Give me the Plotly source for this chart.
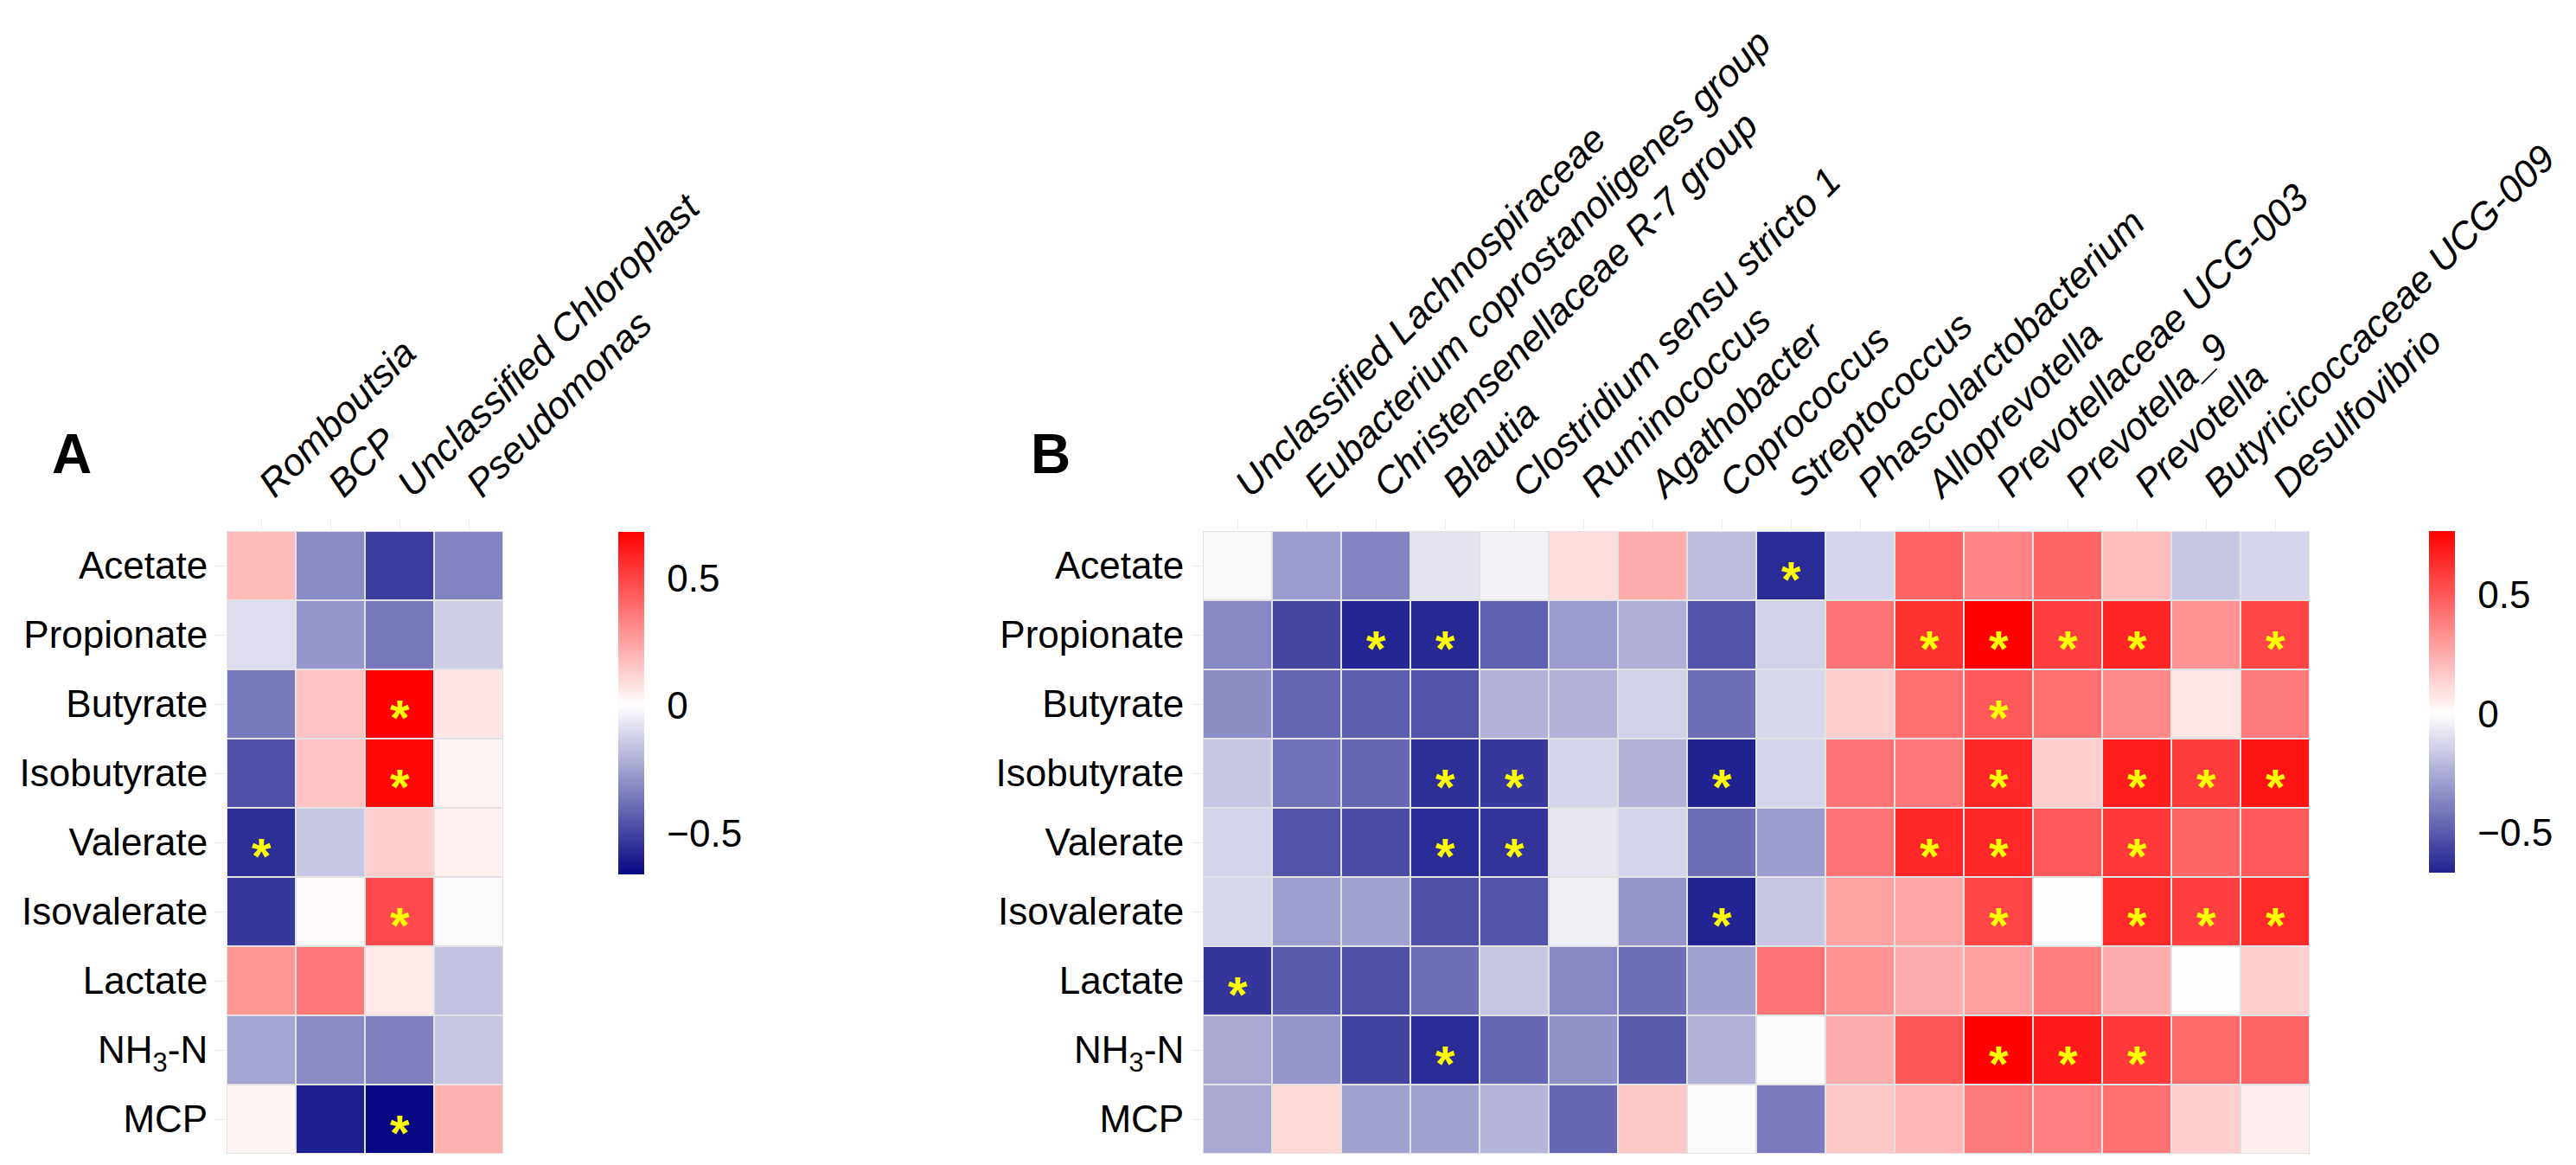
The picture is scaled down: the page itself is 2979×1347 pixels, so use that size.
import numpy as np
import plotly.graph_objects as go

# ---------------- data ----------------
rows = ["Acetate", "Propionate", "Butyrate", "Isobutyrate", "Valerate",
        "Isovalerate", "Lactate", "NH3-N", "MCP"]
row_labels = ["Acetate", "Propionate", "Butyrate", "Isobutyrate", "Valerate",
              "Isovalerate", "Lactate", "NH<sub>3</sub>-N", "MCP"]

cols_a = ["Romboutsia", "BCP", "Unclassified Chloroplast", "Pseudomonas"]
vals_a = [
    [0.18, -0.31, -0.52, -0.33],
    [-0.09, -0.28, -0.36, -0.13],
    [-0.36, 0.16, 0.68, 0.07],
    [-0.47, 0.16, 0.66, 0.03],
    [-0.56, -0.15, 0.13, 0.04],
    [-0.53, 0.01, 0.48, 0.00],
    [0.28, 0.36, 0.06, -0.16],
    [-0.24, -0.31, -0.34, -0.15],
    [0.03, -0.60, -0.66, 0.21],
]
sig_a = [
    [0, 0, 0, 0],
    [0, 0, 0, 0],
    [0, 0, 1, 0],
    [0, 0, 1, 0],
    [1, 0, 0, 0],
    [0, 0, 1, 0],
    [0, 0, 0, 0],
    [0, 0, 0, 0],
    [0, 0, 1, 0],
]

cols_b = ["Unclassified Lachnospiraceae", "Eubacterium coprostanoligenes group",
          "Christensenellaceae R-7 group", "Blautia", "Clostridium sensu stricto 1",
          "Ruminococcus", "Agathobacter", "Coprococcus", "Streptococcus",
          "Phascolarctobacterium", "Alloprevotella", "Prevotellaceae UCG-003",
          "Prevotella_9", "Prevotella", "Butyricicoccaceae UCG-009", "Desulfovibrio"]
vals_b = [
    [-0.02, -0.30, -0.37, -0.08, -0.04, 0.10, 0.25, -0.20, -0.64, -0.13, 0.47, 0.37, 0.46, 0.20, -0.17, -0.13],
    [-0.36, -0.56, -0.66, -0.65, -0.48, -0.30, -0.24, -0.52, -0.14, 0.42, 0.62, 0.77, 0.58, 0.66, 0.33, 0.56],
    [-0.34, -0.47, -0.49, -0.52, -0.23, -0.23, -0.14, -0.44, -0.12, 0.15, 0.43, 0.50, 0.43, 0.36, 0.07, 0.40],
    [-0.17, -0.43, -0.46, -0.63, -0.60, -0.13, -0.23, -0.67, -0.13, 0.42, 0.41, 0.65, 0.15, 0.68, 0.59, 0.71],
    [-0.13, -0.52, -0.54, -0.64, -0.62, -0.07, -0.13, -0.44, -0.30, 0.42, 0.65, 0.65, 0.50, 0.60, 0.46, 0.50],
    [-0.12, -0.29, -0.28, -0.53, -0.52, -0.05, -0.32, -0.665, -0.17, 0.28, 0.27, 0.56, 0.00, 0.64, 0.58, 0.64],
    [-0.61, -0.50, -0.53, -0.44, -0.17, -0.36, -0.44, -0.28, 0.42, 0.33, 0.25, 0.29, 0.39, 0.25, 0.00, 0.15],
    [-0.26, -0.32, -0.57, -0.64, -0.46, -0.33, -0.50, -0.23, -0.01, 0.25, 0.51, 0.76, 0.69, 0.60, 0.45, 0.46],
    [-0.26, 0.12, -0.28, -0.28, -0.22, -0.46, 0.17, -0.01, -0.40, 0.17, 0.22, 0.40, 0.38, 0.43, 0.15, 0.05],
]
sig_b = [
    [0, 0, 0, 0, 0, 0, 0, 0, 1, 0, 0, 0, 0, 0, 0, 0],
    [0, 0, 1, 1, 0, 0, 0, 0, 0, 0, 1, 1, 1, 1, 0, 1],
    [0, 0, 0, 0, 0, 0, 0, 0, 0, 0, 0, 1, 0, 0, 0, 0],
    [0, 0, 0, 1, 1, 0, 0, 1, 0, 0, 0, 1, 0, 1, 1, 1],
    [0, 0, 0, 1, 1, 0, 0, 0, 0, 0, 1, 1, 0, 1, 0, 0],
    [0, 0, 0, 0, 0, 0, 0, 1, 0, 0, 0, 1, 0, 1, 1, 1],
    [1, 0, 0, 0, 0, 0, 0, 0, 0, 0, 0, 0, 0, 0, 0, 0],
    [0, 0, 0, 1, 0, 0, 0, 0, 0, 0, 0, 1, 1, 1, 0, 0],
    [0, 0, 0, 0, 0, 0, 0, 0, 0, 0, 0, 0, 0, 0, 0, 0],
]
colorbar_ticks = [-0.5, 0, 0.5]

# ---------------- styling helpers ----------------
W, H = 2979, 1347
FONT = "Liberation Sans, Arial, sans-serif"

LOW = np.array([0, 0, 128], float)
MID = np.array([255, 255, 255], float)
HIGH = np.array([255, 0, 0], float)


def to_rgb(c):
    c = np.clip(np.round(c), 0, 255).astype(int)
    return "rgb(%d,%d,%d)" % tuple(c)


def div_colorscale(zmin, zmax, n=61):
    """diverging navy-white-red scale, white at 0, symmetric extent"""
    m = max(abs(zmin), abs(zmax))
    scale = []
    for p in np.linspace(0, 1, n):
        v = zmin + p * (zmax - zmin)
        t = 0.5 + v / (2 * m)
        if t < 0.5:
            s = t / 0.5
            col = LOW + s * (MID - LOW)
        else:
            s = (t - 0.5) / 0.5
            col = MID + s * (HIGH - MID)
        scale.append([float(p), to_rgb(col)])
    return scale


za = np.array(vals_a)
zb = np.array(vals_b)
amin, amax = float(za.min()), float(za.max())
bmin, bmax = float(zb.min()), float(zb.max())

fig = go.Figure()
fig.add_trace(go.Heatmap(z=vals_a, x=cols_a, y=rows, coloraxis="coloraxis",
                         xgap=2, ygap=2, xaxis="x", yaxis="y", hoverongaps=False))
fig.add_trace(go.Heatmap(z=vals_b, x=cols_b, y=rows, coloraxis="coloraxis2",
                         xgap=2, ygap=2, xaxis="x2", yaxis="y2", hoverongaps=False))

annotations = []
for (sig, cols, xr, yr) in [(sig_a, cols_a, "x", "y"), (sig_b, cols_b, "x2", "y2")]:
    for i, r in enumerate(rows):
        for j, c in enumerate(cols):
            if sig[i][j]:
                annotations.append(dict(x=c, y=r, xref=xr, yref=yr, text="<b>*</b>",
                                        showarrow=False, yshift=-15,
                                        font=dict(family=FONT, size=58, color="#FFFF00")))

for letter, xc in [("A", 75), ("B", 1207)]:
    annotations.append(dict(x=xc / W, y=(H - 517) / H, xref="paper", yref="paper",
                            text="<b>%s</b>" % letter, showarrow=False,
                            xanchor="center", yanchor="middle",
                            font=dict(family=FONT, size=64, color="black")))

ydom = [(H - 1326) / H, (H - 606) / H]


def xaxis_cfg(dom, cols, anchor):
    return dict(domain=dom, anchor=anchor, side="top", type="category",
                range=[-0.5, len(cols) - 0.5], tickangle=-45,
                tickmode="array", tickvals=cols, ticktext=["<i>%s</i>" % c for c in cols],
                tickfont=dict(family=FONT, size=44, color="black"),
                ticks="outside", ticklen=12, tickcolor="#ececec", tickwidth=1,
                showgrid=False, zeroline=False, showline=False, automargin=False)


def yaxis_cfg(dom, anchor):
    return dict(domain=dom, anchor=anchor, type="category",
                range=[len(rows) - 0.5, -0.5],
                tickmode="array", tickvals=rows, ticktext=row_labels,
                tickfont=dict(family=FONT, size=44, color="black"),
                ticks="outside", ticklen=12, tickcolor="#ececec", tickwidth=1,
                showgrid=False, zeroline=False, showline=False, automargin=False)


def cbar(xleft, ytop, length):
    return dict(x=xleft / W, xanchor="left", y=(H - ytop) / H, yanchor="top",
                len=length, lenmode="pixels", thickness=30, thicknessmode="pixels",
                outlinewidth=0, xpad=0, ypad=0, tickmode="array", tickvals=colorbar_ticks,
                ticks="outside", ticklen=18, tickcolor="rgba(0,0,0,0)",
                tickfont=dict(family=FONT, size=44, color="black"))


fig.update_layout(
    width=W, height=H,
    margin=dict(l=0, r=0, t=0, b=0, pad=0),
    paper_bgcolor="white", plot_bgcolor="#e2e2e2",
    font=dict(family=FONT, color="black"),
    xaxis=xaxis_cfg([254 / W, 574 / W], cols_a, "y"),
    yaxis=yaxis_cfg(ydom, "x"),
    xaxis2=xaxis_cfg([1383 / W, 2663 / W], cols_b, "y2"),
    yaxis2=yaxis_cfg(ydom, "x2"),
    coloraxis=dict(colorscale=div_colorscale(amin, amax), cmin=amin, cmax=amax,
                   colorbar=cbar(707, 607, 396)),
    coloraxis2=dict(colorscale=div_colorscale(bmin, bmax), cmin=bmin, cmax=bmax,
                    colorbar=cbar(2801, 606, 395)),
    annotations=annotations,
    showlegend=False,
)

fig.write_html("out.html")
